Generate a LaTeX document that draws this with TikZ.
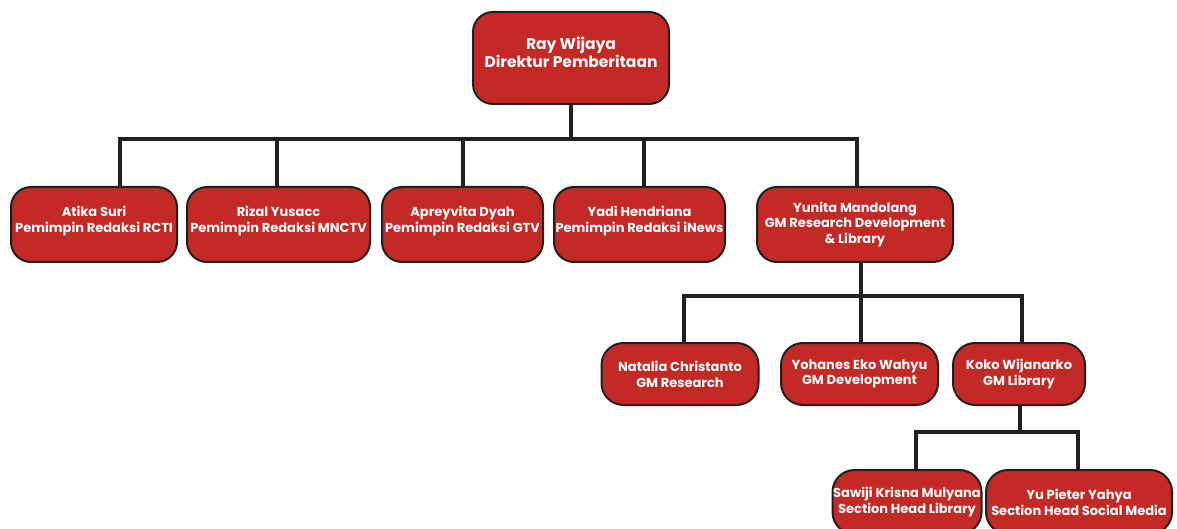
\documentclass[tikz,border=0pt]{standalone}
\usepackage{fontspec}
\setmainfont{Poppins}
\definecolor{boxred}{HTML}{C42A25}
\definecolor{edge}{HTML}{231F20}
\begin{document}
\begin{tikzpicture}[x=1pt,y=-1pt,
  box/.style={draw=edge, line width=2pt, fill=boxred, rounded corners=20pt,
    text=white, font=\bfseries\fontsize{13}{15.8}\selectfont, align=center,
    inner sep=0pt},
  conn/.style={draw=edge, line width=3.5pt}]
\useasboundingbox (0,0) rectangle (1177,529);
% nodes
\node[box, minimum width=196pt, minimum height=92pt, font=\bfseries\fontsize{15.5}{18}\selectfont] (top) at (571,58) {Ray Wijaya\\Direktur Pemberitaan\\[-6pt]};
\node[box, minimum width=166pt, minimum height=75pt] (atika) at (94,224.5) {Atika Suri\\Pemimpin Redaksi RCTI\\[-5pt]};
\node[box, minimum width=183pt, minimum height=75pt] (rizal) at (278.5,224.5) {Rizal Yusacc\\Pemimpin Redaksi MNCTV\\[-5pt]};
\node[box, minimum width=161pt, minimum height=75pt] (aprey) at (462.5,224.5) {Apreyvita Dyah\\Pemimpin Redaksi GTV\\[-5pt]};
\node[box, minimum width=171pt, minimum height=75pt] (yadi) at (639.5,224.5) {Yadi Hendriana\\Pemimpin Redaksi iNews\\[-5pt]};
\node[box, minimum width=196pt, minimum height=75pt] (yunita) at (855,224.5) {Yunita Mandolang\\GM Research Development\\\& Library};
\node[box, minimum width=157pt, minimum height=62pt, rounded corners=22pt] (natalia) at (680,374) {Natalia Christanto\\GM Research};
\node[box, minimum width=157pt, minimum height=62pt, rounded corners=22pt] (yohanes) at (859.5,374) {Yohanes Eko Wahyu\\GM Development};
\node[box, minimum width=132pt, minimum height=62pt, rounded corners=22pt] (koko) at (1019,374) {Koko Wijanarko\\GM Library};
\node[box, minimum width=149pt, minimum height=64pt, rounded corners=22pt] (sawiji) at (907,502) {Sawiji Krisna Mulyana\\Section Head Library};
\node[box, minimum width=186pt, minimum height=64pt, rounded corners=22pt] (yu) at (1079,502) {Yu Pieter Yahya\\Section Head Social Media};
% bus coordinates
\coordinate (b1) at (571,139);
\coordinate (b1l) at (120,139);
\coordinate (b1r) at (857,139);
\coordinate (b2) at (861,296);
\coordinate (b2l) at (684,296);
\coordinate (b2r) at (1022,296);
\coordinate (b3) at (1020,432);
\coordinate (b3l) at (916,432);
\coordinate (b3r) at (1078,432);
\coordinate (d2) at (277,139);
\coordinate (d3) at (463,139);
\coordinate (d4) at (644,139);
% connectors
\draw[conn] (top.south) -- (b1);
\draw[conn, line cap=rect] (b1l) -- (b1r);
\draw[conn] (b1l) -- (b1l |- atika.north);
\draw[conn] (d2) -- (d2 |- rizal.north);
\draw[conn] (d3) -- (d3 |- aprey.north);
\draw[conn] (d4) -- (d4 |- yadi.north);
\draw[conn] (b1r) -- (b1r |- yunita.north);
\draw[conn] (yunita.south -| b2) -- (b2);
\draw[conn, line cap=rect] (b2l) -- (b2r);
\draw[conn] (b2l) -- (b2l |- natalia.north);
\draw[conn] (b2) -- (b2 |- yohanes.north);
\draw[conn] (b2r) -- (b2r |- koko.north);
\draw[conn] (koko.south -| b3) -- (b3);
\draw[conn, line cap=rect] (b3l) -- (b3r);
\draw[conn] (b3l) -- (b3l |- sawiji.north);
\draw[conn] (b3r) -- (b3r |- yu.north);
\end{tikzpicture}
\end{document}
